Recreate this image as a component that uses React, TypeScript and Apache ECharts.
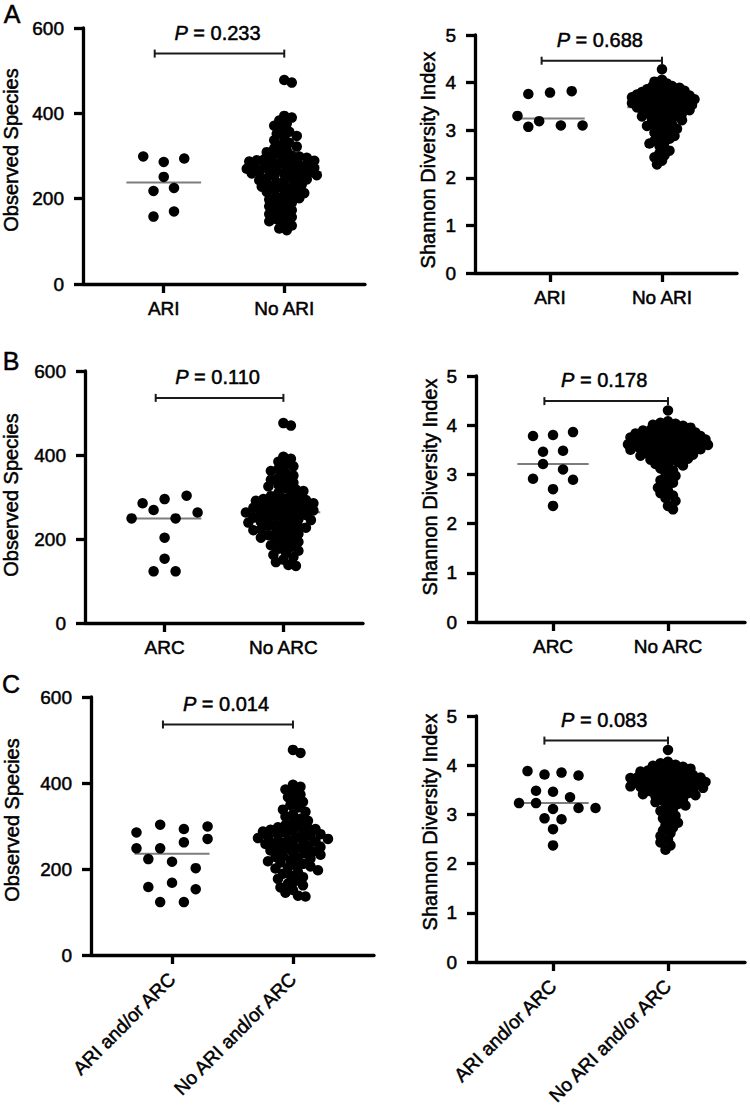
import React, { useEffect, useRef } from 'react';
import * as echarts from 'echarts';

const FONT = '"Liberation Sans", Arial, Helvetica, sans-serif';
const TEXT_STROKE = 0.5;

// Group names on the x axes
const catsA = ['ARI', 'No ARI'];
const catsB = ['ARC', 'No ARC'];
const catsC = ['ARI and/or ARC', 'No ARI and/or ARC'];

// P values of the group comparisons (A obs, A shannon, B obs, B shannon, C obs, C shannon)
const pValues = ['0.233', '0.688', '0.110', '0.178', '0.014', '0.083'];

// Observed species per child
const obsAriYes = [299, 286, 294, 251, 218, 225, 158, 170];
const obsAriNo = [
  478, 472,
  394, 390, 383,
  376, 371, 364,
  357, 352, 347, 342,
  337, 331, 326, 322,
  318, 313, 309, 305, 301,
  299, 297, 296, 294, 292, 290, 289, 287, 285, 283, 281,
  279, 278, 276, 275, 273, 272, 270, 268, 267, 265, 264, 262, 261,
  259, 257, 255, 253, 251, 249, 247, 245, 243, 241,
  238, 236, 233, 231, 228, 226, 224, 221,
  219, 216, 213, 210, 207, 204, 201,
  198, 194, 190, 186, 182,
  178, 173, 168, 164, 161,
  157, 152, 147, 142,
  137, 130, 126,
];
const obsArcYes = [285, 295, 303, 249, 269, 249, 263, 203, 153, 123, 123];
const obsArcNo = [
  476, 470,
  396, 391, 384,
  378, 373, 367, 362,
  357, 351, 346, 341,
  338, 334, 329, 325, 321,
  318, 314, 310, 306, 302,
  299, 297, 295, 293, 291, 289, 287, 285, 283, 281,
  279, 277, 275, 274, 272, 270, 268, 266, 264, 263, 261,
  259, 257, 255, 253, 251, 249, 247, 245, 243, 241,
  239, 236, 234, 231, 229, 227, 225, 223, 221,
  218, 215, 212, 209, 206, 203, 201,
  197, 193, 189, 185, 181,
  177, 172, 167, 162,
  157, 151, 145,
  138, 136,
];
const obsAnyYes = [285, 303, 293, 299, 248, 248, 262, 270, 223, 217, 202, 158, 168, 153, 123, 123];
const obsAnyNo = [
  477, 470,
  396, 391, 385,
  379, 373, 367, 361,
  356, 349, 343,
  338, 333, 327, 322,
  317, 312, 307, 302,
  299, 297, 295, 293, 291, 289, 287, 285, 283, 281,
  279, 277, 275, 273, 272, 270, 268, 266, 264, 262, 260,
  258, 256, 254, 251, 249, 247, 245, 243, 241,
  238, 236, 233, 231, 228, 226, 224, 221,
  218, 215, 212, 209, 206, 203, 201,
  197, 193, 189, 185, 181,
  177, 172, 166, 162,
  157, 151, 145,
  138, 136,
];

// Shannon diversity index per child
const shAriYes = [3.76, 3.79, 3.82, 3.30, 3.19, 3.10, 3.10, 3.07];
const shAriNo = [
  4.28,
  4.06, 4.02,
  3.98, 3.95, 3.93, 3.91,
  3.89, 3.87, 3.86, 3.84, 3.83, 3.81, 3.80,
  3.79, 3.78, 3.76, 3.75, 3.74, 3.73, 3.72, 3.71, 3.70,
  3.69, 3.68, 3.67, 3.66, 3.65, 3.64, 3.63, 3.62, 3.61, 3.60,
  3.59, 3.58, 3.57, 3.56, 3.55, 3.54, 3.53, 3.52, 3.51,
  3.49, 3.48, 3.46, 3.45, 3.44, 3.43, 3.42, 3.41,
  3.39, 3.38, 3.36, 3.35, 3.33, 3.32, 3.30,
  3.29, 3.27, 3.25, 3.23, 3.21,
  3.19, 3.16, 3.13, 3.11,
  3.09, 3.06, 3.03, 3.01,
  2.98, 2.95, 2.92,
  2.88, 2.85, 2.82,
  2.78, 2.75, 2.72,
  2.67, 2.62,
  2.57, 2.52,
  2.47, 2.43,
  2.36,
  2.28,
];
const shArcYes = [3.78, 3.80, 3.86, 3.46, 3.48, 3.21, 3.10, 2.91, 2.70, 2.89, 2.36];
const shArcNo = [
  4.30,
  4.08, 4.05, 4.03, 4.01,
  3.99, 3.97, 3.95, 3.93, 3.92, 3.90,
  3.89, 3.88, 3.86, 3.85, 3.84, 3.83, 3.81, 3.80,
  3.79, 3.78, 3.77, 3.76, 3.75, 3.74, 3.73, 3.72, 3.71, 3.70,
  3.69, 3.68, 3.67, 3.66, 3.65, 3.64, 3.63, 3.62, 3.61, 3.60,
  3.59, 3.58, 3.57, 3.56, 3.55, 3.54, 3.53, 3.52, 3.51, 3.50,
  3.48, 3.46, 3.45, 3.43, 3.42, 3.41, 3.40,
  3.38, 3.36, 3.35, 3.33, 3.32, 3.30,
  3.28, 3.25, 3.23, 3.21,
  3.18, 3.15, 3.12,
  3.08, 3.03,
  2.97, 2.92,
  2.88, 2.83,
  2.78, 2.73,
  2.67, 2.62,
  2.57, 2.52,
  2.46,
  2.36,
  2.29,
];
const shAnyYes = [3.88, 3.81, 3.85, 3.79, 3.48, 3.46, 3.35, 3.23, 3.23, 3.11, 3.13, 3.13, 2.92, 2.90, 2.70, 2.37];
const shAnyNo = [
  4.31,
  4.07, 4.04, 4.01,
  3.99, 3.97, 3.95, 3.93, 3.92, 3.90,
  3.89, 3.87, 3.86, 3.84, 3.83, 3.81, 3.80,
  3.79, 3.78, 3.76, 3.75, 3.74, 3.73, 3.72, 3.71, 3.70,
  3.69, 3.68, 3.67, 3.66, 3.65, 3.64, 3.63, 3.62, 3.61, 3.60,
  3.59, 3.58, 3.57, 3.56, 3.55, 3.54, 3.53, 3.52, 3.51,
  3.49, 3.47, 3.46, 3.44, 3.43, 3.42, 3.41,
  3.39, 3.37, 3.35, 3.33, 3.31,
  3.28, 3.25, 3.23, 3.21,
  3.18, 3.14, 3.11,
  3.07, 3.02,
  2.97, 2.92,
  2.87, 2.83,
  2.78, 2.73,
  2.67, 2.62,
  2.56,
  2.48, 2.43,
  2.37,
  2.28,
];

// x axis runs from X_MIN to X_MAX with the two groups at 0 and 1
const X_MIN = -0.67;
const X_MAX = 1.67;
const DOT = 10.5;

type Panel = {
  grid: { left: number; top: number; width: number; height: number };
  yMax: number;
  yStep: number;
  title: string;
  titlePos: [number, number];
  cats: string[];
  groups: number[][];
  p: string;
  bracketY: number;
  rotate: number;
  packing: number; // min centre distance (px) inside the dense group
  rowGap: number; // horizontal spacing (px) of dots in one row of the small group
};

const panels: Panel[] = [
  { grid: { left: 83, top: 28, width: 282, height: 256 }, yMax: 600, yStep: 200, title: 'Observed Species', titlePos: [11, 150], cats: catsA, groups: [obsAriYes, obsAriNo], p: pValues[0], bracketY: 540, rotate: 0, packing: 6.8, rowGap: 20.5 },
  { grid: { left: 475, top: 35, width: 262, height: 238 }, yMax: 5, yStep: 1, title: 'Shannon Diversity Index', titlePos: [428, 160], cats: catsA, groups: [shAriYes, shAriNo], p: pValues[1], bracketY: 4.46, rotate: 0, packing: 5.5, rowGap: 21.7 },
  { grid: { left: 85, top: 371, width: 278, height: 252 }, yMax: 600, yStep: 200, title: 'Observed Species', titlePos: [11, 495], cats: catsB, groups: [obsArcYes, obsArcNo], p: pValues[2], bracketY: 536, rotate: 0, packing: 6.9, rowGap: 22 },
  { grid: { left: 476, top: 376, width: 269, height: 246 }, yMax: 5, yStep: 1, title: 'Shannon Diversity Index', titlePos: [430, 487], cats: catsB, groups: [shArcYes, shArcNo], p: pValues[3], bracketY: 4.49, rotate: 0, packing: 5.9, rowGap: 20 },
  { grid: { left: 91, top: 697, width: 283, height: 258 }, yMax: 600, yStep: 200, title: 'Observed Species', titlePos: [12, 820], cats: catsC, groups: [obsAnyYes, obsAnyNo], p: pValues[4], bracketY: 536, rotate: 45, packing: 7.0, rowGap: 23.7 },
  { grid: { left: 476, top: 716, width: 269, height: 246 }, yMax: 5, yStep: 1, title: 'Shannon Diversity Index', titlePos: [430, 822], cats: catsC, groups: [shAnyYes, shAnyNo], p: pValues[5], bracketY: 4.50, rotate: 45, packing: 5.9, rowGap: 17 },
];

const letters: { text: string; x: number; y: number }[] = [
  { text: 'A', x: 12, y: 14 },
  { text: 'B', x: 11, y: 361 },
  { text: 'C', x: 11, y: 684 },
];

function median(values: number[]): number {
  const s = [...values].sort((a, b) => a - b);
  const n = s.length;
  return n % 2 ? s[(n - 1) / 2] : (s[n / 2 - 1] + s[n / 2]) / 2;
}

// Greedy beeswarm for the dense groups: pixel offsets keeping centres at least minDist apart
function swarm(values: number[], pxPerUnit: number, minDist: number, step: number): number[] {
  const order = values.map((_, i) => i).sort((a, b) => values[b] - values[a]);
  const placed: { x: number; y: number }[] = [];
  const out = new Array(values.length).fill(0);
  order.forEach((i, n) => {
    const y = values[i] * pxPerUnit;
    const sign = n % 2 ? 1 : -1;
    let chosen = 0;
    for (let k = 0; k < 400; k++) {
      const m = Math.ceil(k / 2) * (k % 2 ? sign : -sign);
      const x = m * step;
      const ok = placed.every((p) => (p.x - x) ** 2 + (p.y - y) ** 2 >= minDist * minDist);
      if (ok) {
        chosen = x;
        break;
      }
    }
    placed.push({ x: chosen, y });
    out[i] = chosen;
  });
  return out;
}

// Row layout for the small groups: dots within one dot height share a row,
// spread evenly around the centre; a dot that would touch another moves sideways.
function rows(values: number[], pxPerUnit: number, gap: number): number[] {
  const order = values.map((_, i) => i).sort((a, b) => values[b] - values[a] || a - b);
  const groups: number[][] = [];
  let cur: number[] = [];
  let top = 0;
  for (const i of order) {
    if (cur.length && (top - values[i]) * pxPerUnit > DOT) {
      groups.push(cur);
      cur = [];
    }
    if (!cur.length) top = values[i];
    cur.push(i);
  }
  if (cur.length) groups.push(cur);

  const out = new Array(values.length).fill(0);
  const placed: { x: number; y: number }[] = [];
  const clear = DOT * 1.1;
  groups.forEach((g) => {
    const r = [...g].sort((a, b) => a - b);
    r.forEach((i, j) => {
      const y = values[i] * pxPerUnit;
      const base = (j - (r.length - 1) / 2) * gap;
      const cands = [base];
      for (let k = 1; k < 12; k++) cands.push(base - (k * gap) / 2, base + (k * gap) / 2);
      let x = base;
      for (const c of cands) {
        if (placed.every((p) => (p.x - c) ** 2 + (p.y - y) ** 2 >= clear * clear)) {
          x = c;
          break;
        }
      }
      placed.push({ x, y });
      out[i] = x;
    });
  });
  return out;
}

function buildOption() {
  const grid: any[] = [];
  const xAxis: any[] = [];
  const yAxis: any[] = [];
  const series: any[] = [];
  const graphic: any[] = [];

  const labelText = {
    color: '#000',
    fontFamily: FONT,
    textBorderColor: '#000',
    textBorderWidth: TEXT_STROKE,
  };

  panels.forEach((pn, i) => {
    grid.push({ ...pn.grid, containLabel: false, outerBoundsMode: 'none' });
    xAxis.push({
      type: 'value',
      gridIndex: i,
      min: X_MIN,
      max: X_MAX,
      splitLine: { show: false },
      axisLine: { show: true, onZero: false, lineStyle: { color: '#000', width: 3.3 } },
      axisTick: { show: true, customValues: [0, 1], length: 9, lineStyle: { color: '#000', width: 3.3 } },
      axisLabel: {
        show: true,
        customValues: [0, 1],
        formatter: (v: number) => pn.cats[Math.round(v)] ?? '',
        rotate: pn.rotate,
        margin: pn.rotate ? 21 : 15,
        fontSize: 19,
        ...labelText,
      },
    });
    yAxis.push({
      type: 'value',
      gridIndex: i,
      min: 0,
      max: pn.yMax,
      interval: pn.yStep,
      splitLine: { show: false },
      axisLine: { show: true, onZero: false, lineStyle: { color: '#000', width: 3.3 } },
      axisTick: { show: true, length: 9, lineStyle: { color: '#000', width: 3.3 } },
      axisLabel: { fontSize: 19, margin: 19, ...labelText },
    });

    const pxPerY = pn.grid.height / pn.yMax;
    const pxPerX = pn.grid.width / (X_MAX - X_MIN);

    // median lines, drawn below the dots
    series.push({
      type: 'custom',
      xAxisIndex: i,
      yAxisIndex: i,
      z: 2,
      clip: false,
      silent: true,
      encode: { x: 0, y: 1 },
      data: pn.groups.map((g, gi) => [gi, median(g)]),
      renderItem: (_params: any, api: any) => {
        const x = api.value(0);
        const y = api.value(1);
        const a = api.coord([x - 0.31, y]);
        const b = api.coord([x + 0.31, y]);
        return {
          type: 'line',
          shape: { x1: a[0], y1: a[1], x2: b[0], y2: b[1] },
          style: { stroke: '#7d7d7d', lineWidth: 2 },
        };
      },
    });

    // dots per group
    pn.groups.forEach((vals, gi) => {
      const big = vals.length > 30;
      const offs = big ? swarm(vals, pxPerY, pn.packing, 2.5) : rows(vals, pxPerY, pn.rowGap);
      series.push({
        type: 'scatter',
        xAxisIndex: i,
        yAxisIndex: i,
        z: 3,
        symbol: 'circle',
        symbolSize: DOT,
        itemStyle: { color: '#000', opacity: 1 },
        data: vals.map((v, k) => [gi + offs[k] / pxPerX, v]),
      });
    });

    // significance bracket with its P value
    series.push({
      type: 'custom',
      xAxisIndex: i,
      yAxisIndex: i,
      z: 4,
      clip: false,
      silent: true,
      encode: { x: [0, 1], y: 2 },
      data: [[-0.075, 1, pn.bracketY]],
      renderItem: (_params: any, api: any) => {
        const y = api.value(2);
        const a = api.coord([api.value(0), y]);
        const b = api.coord([api.value(1), y]);
        const st = { stroke: '#1a1a1a', lineWidth: 2 };
        return {
          type: 'group',
          children: [
            { type: 'line', shape: { x1: a[0], y1: a[1], x2: b[0], y2: b[1] }, style: st },
            { type: 'line', shape: { x1: a[0], y1: a[1] - 4, x2: a[0], y2: a[1] + 4 }, style: st },
            { type: 'line', shape: { x1: b[0], y1: b[1] - 4, x2: b[0], y2: b[1] + 4 }, style: st },
            {
              type: 'text',
              x: (a[0] + b[0]) / 2 - 2,
              y: a[1] - 21,
              style: {
                text: '{i|P} = ' + pn.p,
                rich: {
                  i: { fontStyle: 'italic', fontSize: 20, fontFamily: FONT, fill: '#000', stroke: '#000', lineWidth: TEXT_STROKE },
                },
                fontSize: 20,
                fontFamily: FONT,
                fill: '#000',
                stroke: '#000',
                lineWidth: TEXT_STROKE,
                align: 'center',
                verticalAlign: 'middle',
              },
            },
          ],
        };
      },
    });

    graphic.push({
      type: 'text',
      x: pn.titlePos[0],
      y: pn.titlePos[1],
      rotation: Math.PI / 2,
      style: {
        text: pn.title,
        fontSize: 20,
        fontFamily: FONT,
        fill: '#000',
        stroke: '#000',
        lineWidth: TEXT_STROKE,
        align: 'center',
        verticalAlign: 'middle',
      },
    });
  });

  letters.forEach((l) => {
    graphic.push({
      type: 'text',
      x: l.x,
      y: l.y,
      style: {
        text: l.text,
        fontSize: 25,
        fontFamily: FONT,
        fill: '#000',
        stroke: '#000',
        lineWidth: TEXT_STROKE,
        align: 'center',
        verticalAlign: 'middle',
      },
    });
  });

  return {
    animation: false,
    backgroundColor: '#fff',
    grid,
    xAxis,
    yAxis,
    series,
    graphic,
  };
}

export default function App() {
  const ref = useRef<HTMLDivElement>(null);
  useEffect(() => {
    document.body.style.margin = '0';
    if (!ref.current) return;
    const chart = echarts.init(ref.current, undefined, { renderer: 'svg' });
    chart.setOption(buildOption() as any);
    return () => chart.dispose();
  }, []);
  return <div ref={ref} style={{ width: 750, height: 1105 }} />;
}
